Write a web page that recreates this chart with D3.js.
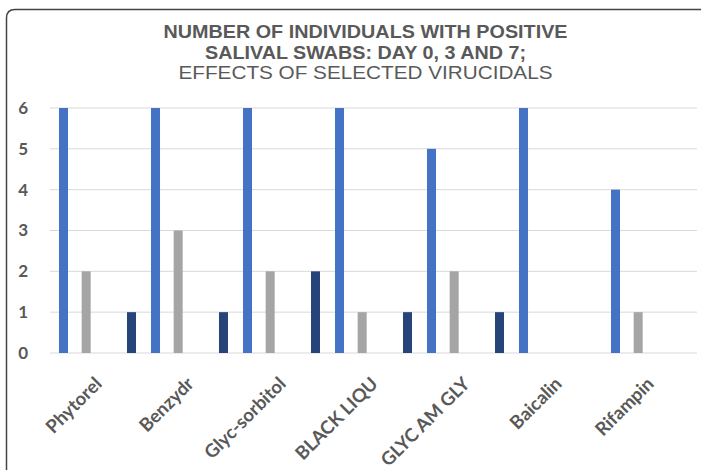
<!DOCTYPE html>
<html><head><meta charset="utf-8">
<script src="https://cdn.jsdelivr.net/npm/d3@7"></script>
<style>body{margin:0;background:#fff}svg{display:block}</style>
</head><body>
<svg id="c" width="701" height="470"></svg>
<script>
const categories = ["Phytorel","Benzydr","Glyc-sorbitol","BLACK LIQU","GLYC AM GLY","Baicalin","Rifampin"];
const seriesNames = ["Day 0","Day 3","(blank)","Day 7"];
const day0 = [6,6,6,6,5,6,4];
const day3 = [2,3,2,1,2,0,1];
const blank = [0,0,0,0,0,0,0];
const day7 = [1,1,2,1,1,0,0];
const yTicks = [0,1,2,3,4,5,6];
const titleLines = ["NUMBER OF INDIVIDUALS WITH POSITIVE","SALIVAL SWABS: DAY 0, 3 AND 7;","EFFECTS OF SELECTED VIRUCIDALS"];

const series = [day0, day3, blank, day7];
const colors = ["#4472C4","#A5A5A5","#ED7D31","#264478"];

const svg = d3.select("#c");
// border
svg.append("path").attr("d","M6.5,470 L6.5,18 Q6.5,9.5 15,9.5 L705,9.5")
  .attr("fill","none").attr("stroke","#444").attr("stroke-width",1.5);

const x0 = d3.scaleBand().domain(categories).range([51,695]).paddingInner(0).paddingOuter(0);
const x1 = d3.scaleBand().domain(d3.range(4)).range([0, x0.bandwidth()]).padding(0).paddingOuter(0.03);
const y = d3.scaleLinear().domain([0,6]).range([353,108]);

// grid
svg.append("g").selectAll("line").data(yTicks).join("line")
  .attr("x1",50).attr("x2",697).attr("y1",d=>y(d)).attr("y2",d=>y(d))
  .attr("stroke","#d9d9d9").attr("stroke-width",1);

// y axis labels
const yAxis = d3.axisLeft(y).tickValues(yTicks).tickFormat(d3.format("d")).tickSize(0).tickPadding(0);
const ya = svg.append("g").attr("transform","translate(28,0)").call(yAxis);
ya.select(".domain").remove();
ya.selectAll("text").attr("font-family","Lato, 'Open Sans', sans-serif").attr("font-weight","bold")
  .attr("font-size",17).attr("fill","#595959");

// bars
const bw = 9;
const g = svg.append("g");
series.forEach((s,si)=>{
  g.selectAll(null).data(s.map((v,i)=>({v,i}))).join("rect")
   .filter(d=>d.v>0)
   .attr("x",d=>x0(categories[d.i]) + x1(si) + x1.bandwidth()/2 - bw/2 + 0.5)
   .attr("width",bw)
   .attr("y",d=>y(d.v)).attr("height",d=>y(0)-y(d.v))
   .attr("fill",colors[si]);
});

// x labels
const xa = svg.append("g").attr("transform","translate(0,360)")
  .call(d3.axisBottom(x0).tickSize(0).tickPadding(0));
xa.select(".domain").remove();
xa.selectAll("text")
  .attr("font-family","Lato, 'Open Sans', sans-serif").attr("font-weight","bold")
  .attr("font-size",18.5).attr("fill","#595959")
  .attr("text-anchor","end").attr("y",0).attr("dy",0)
  .attr("transform","translate(6,25) rotate(-45)");

// title
const t = svg.append("g").attr("font-family","'Liberation Sans', Arial, sans-serif")
  .attr("font-size",17.5).attr("fill","#595959").attr("text-anchor","middle");
const tl = [404, 321, 374];
titleLines.forEach((l,i)=>{
  t.append("text").attr("x",365.5).attr("y",[37.5,58.5,79][i]).text(l)
   .attr("textLength", tl[i]).attr("lengthAdjust","spacingAndGlyphs")
   .attr("font-weight", i<2 ? "bold" : "normal");
});
</script>
</body></html>
